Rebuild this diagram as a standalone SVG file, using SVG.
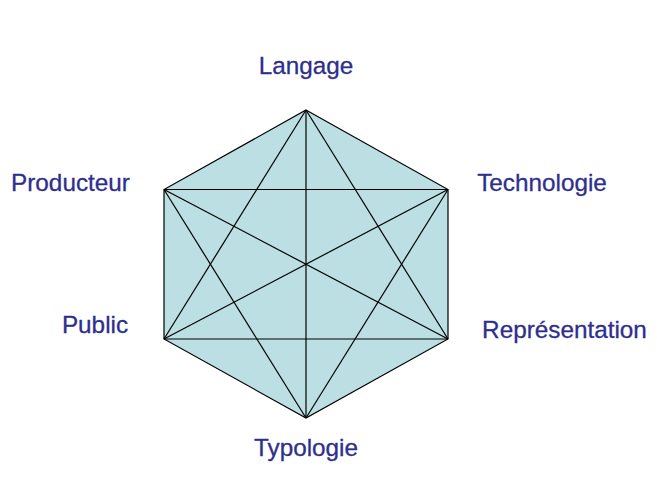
<svg xmlns="http://www.w3.org/2000/svg" width="657" height="504" viewBox="0 0 657 504">
<style>
.lbl{font-family:"Liberation Sans",Arial,sans-serif;font-size:24.3px;fill:#2E2F8D;stroke:#2E2F8D;stroke-width:0.3;text-anchor:middle}
.hex{fill:#BBDFE2;stroke:#000;stroke-width:1.2}
.e{stroke:#000;stroke-width:1.2;fill:none}
</style>
<rect width="657" height="504" fill="#fff"/>
<g id="hexagon">
<polygon class="hex" points="306,110 448,189.5 448,339 306,418 164,339 164,189.5"/>
</g>
<g id="connectors">
<line class="e" x1="164" y1="189.5" x2="448" y2="189.5"/>
<line class="e" x1="164" y1="339" x2="448" y2="339"/>
<line class="e" x1="306" y1="110" x2="306" y2="418"/>
<line class="e" x1="164" y1="189.5" x2="448" y2="339"/>
<line class="e" x1="448" y1="189.5" x2="164" y2="339"/>
<line class="e" x1="306" y1="110" x2="164" y2="339"/>
<line class="e" x1="306" y1="110" x2="448" y2="339"/>
<line class="e" x1="306" y1="418" x2="164" y2="189.5"/>
<line class="e" x1="306" y1="418" x2="448" y2="189.5"/>
</g>
<g id="langage"><text class="lbl" x="306" y="74">Langage</text></g>
<g id="producteur"><text class="lbl" x="70.5" y="191">Producteur</text></g>
<g id="technologie"><text class="lbl" x="542" y="191">Technologie</text></g>
<g id="public"><text class="lbl" x="95" y="332.5">Public</text></g>
<g id="representation"><text class="lbl" x="564.5" y="338">Représentation</text></g>
<g id="typologie"><text class="lbl" x="306" y="456">Typologie</text></g>
</svg>
